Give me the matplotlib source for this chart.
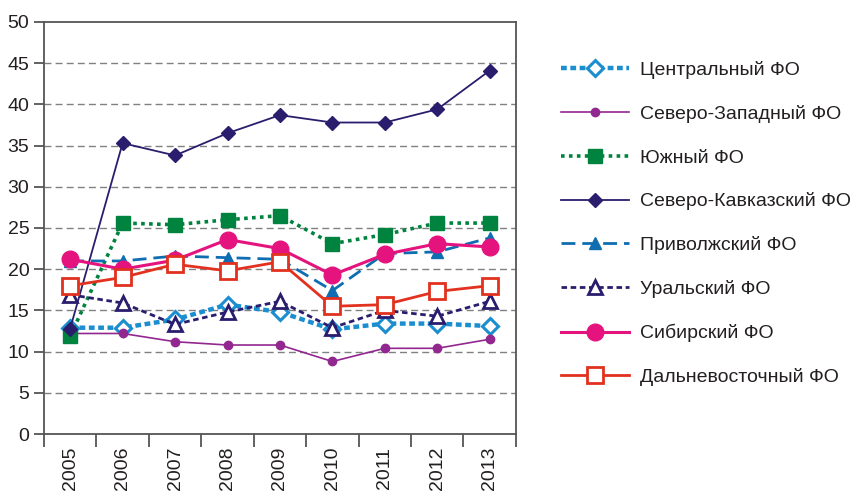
import matplotlib.pyplot as plt
import numpy as np

plt.rcParams['font.family'] = ['Liberation Sans', 'DejaVu Sans']

years = ['2005', '2006', '2007', '2008', '2009', '2010', '2011', '2012', '2013']

central = [12.9, 12.9, 13.9, 15.7, 14.8, 12.7, 13.4, 13.4, 13.1]
north_west = [12.2, 12.2, 11.2, 10.8, 10.8, 8.8, 10.4, 10.4, 11.5]
south = [11.9, 25.6, 25.4, 26.0, 26.5, 23.1, 24.2, 25.6, 25.6]
north_caucasus = [12.8, 35.3, 33.8, 36.5, 38.7, 37.8, 37.8, 39.4, 44.1]
volga = [21.0, 21.0, 21.6, 21.4, 21.2, 17.4, 21.9, 22.1, 23.8]
ural = [16.9, 15.9, 13.3, 14.8, 16.1, 12.9, 15.0, 14.3, 16.1]
siberia = [21.2, 20.0, 21.1, 23.6, 22.5, 19.3, 21.8, 23.1, 22.7]
far_east = [18.0, 19.0, 20.6, 19.8, 20.9, 15.5, 15.7, 17.3, 18.0]

labels = ['Центральный ФО', 'Северо-Западный ФО', 'Южный ФО',
          'Северо-Кавказский ФО', 'Приволжский ФО', 'Уральский ФО',
          'Сибирский ФО', 'Дальневосточный ФО']

txt = '#231f20'
fig = plt.figure(figsize=(8.57, 4.95), dpi=100)
ax = fig.add_axes([0.0513, 0.1232, 0.5507, 0.8324])
x = np.arange(len(years))

# each series: values, colour, line width, dash pattern, marker style
ax.plot(x, central, color='#1b8ed0', lw=3.2, ls=(0, (1.3, 0.8)), marker='D', ms=8,
        mfc='white', mec='#1b8ed0', mew=2.2, label=labels[0])
ax.plot(x, north_west, color='#92278f', lw=1.2, ls='-', marker='o', ms=6,
        mfc='#92278f', mec='#92278f', label=labels[1])
ax.plot(x, south, color='#00833e', lw=2.6, ls=(0, (1, 1.2)), marker='s', ms=10,
        mfc='#00833e', mec='#00833e', label=labels[2])
ax.plot(x, north_caucasus, color='#2b1d6e', lw=1.3, ls='-', marker='D', ms=7,
        mfc='#2b1d6e', mec='#2b1d6e', label=labels[3])
ax.plot(x, volga, color='#0f6db1', lw=2.0, ls=(0, (5, 2.5)), marker='^', ms=8,
        mfc='#0f6db1', mec='#0f6db1', label=labels[4])
ax.plot(x, ural, color='#2b1d6e', lw=2.0, ls=(0, (2, 1.3)), marker='^', ms=10,
        mfc='white', mec='#2b1d6e', mew=2, label=labels[5])
ax.plot(x, siberia, color='#e5137e', lw=2.2, ls='-', marker='o', ms=12,
        mfc='#e5137e', mec='#e5137e', label=labels[6])
ax.plot(x, far_east, color='#e2311f', lw=2.0, ls='-', marker='s', ms=11,
        mfc='white', mec='#e2311f', mew=2, label=labels[7])

ax.set_ylim(0, 50)
ax.set_yticks(np.arange(0, 51, 5))
ax.set_xlim(-0.5, len(years) - 0.5)
ax.set_xticks(x)
ax.set_xticklabels(years, rotation=90)
ax.set_xticks(np.arange(-0.5, len(years), 1), minor=True)
ax.tick_params(axis='x', which='major', length=0, pad=9, labelsize=14, labelcolor=txt)
ax.tick_params(axis='x', which='minor', length=9, width=1.3, color='#555555')
ax.tick_params(axis='y', length=7, width=1.3, color='#555555', labelsize=14, labelcolor=txt)

for y in range(5, 50, 5):
    ax.axhline(y, color='#808080', lw=1, ls=(0, (5, 3)), zorder=0)
for s in ax.spines.values():
    s.set_color('#555555')
    s.set_linewidth(1.3)

fig.legend(loc='upper left', bbox_to_anchor=(0.645, 0.892), frameon=False,
           fontsize=14, handlelength=3.5, labelspacing=1.33, handletextpad=0.6,
           labelcolor=txt, borderaxespad=0)

fig.savefig('out.png', dpi=100)
